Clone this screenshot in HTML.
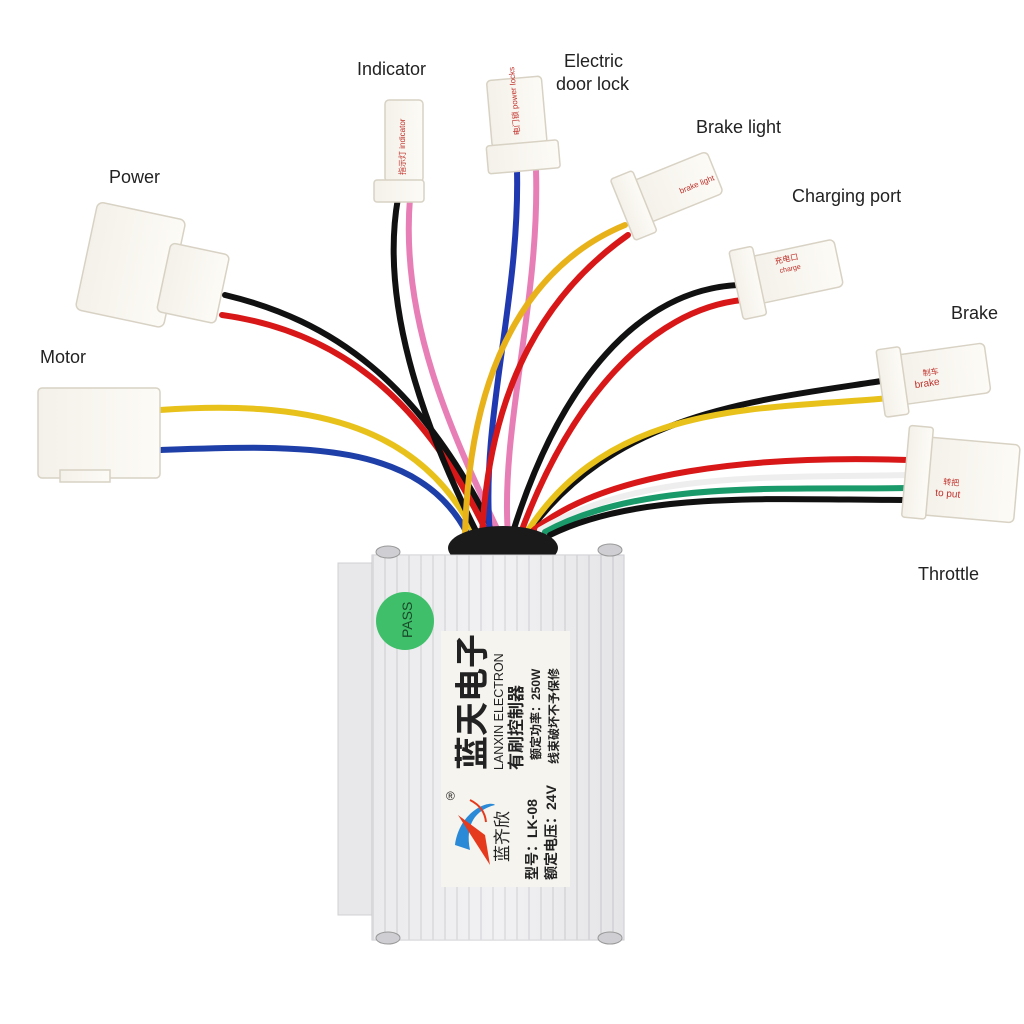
<!DOCTYPE html>
<html><head><meta charset="utf-8"><style>
html,body{margin:0;padding:0;background:#fff;}
svg{display:block;}
.lbl{font-family:"Liberation Sans",sans-serif;font-size:18px;fill:#222;}
.cn{font-family:"Liberation Sans","Noto Sans CJK SC",sans-serif;font-weight:bold;fill:#222;}
</style></head><body>
<svg width="1024" height="1024" viewBox="0 0 1024 1024" xmlns="http://www.w3.org/2000/svg">
<defs>
<linearGradient id="al" x1="0" x2="1">
<stop offset="0" stop-color="#e6e6e8"/><stop offset="0.5" stop-color="#f4f4f6"/><stop offset="1" stop-color="#d8d8dc"/>
</linearGradient>
<pattern id="rib" width="12" height="10" patternUnits="userSpaceOnUse">
<rect width="12" height="10" fill="#efeff1"/><rect x="0" width="2" height="10" fill="#d2d2d6"/>
</pattern>
<linearGradient id="conn" x1="0" x2="1"><stop offset="0" stop-color="#f4f1ea"/><stop offset="1" stop-color="#fdfbf6"/></linearGradient>
</defs>

<text class="lbl" x="357" y="75">Indicator</text>
<text class="lbl" x="564" y="67">Electric</text>
<text class="lbl" x="556" y="90">door lock</text>
<text class="lbl" x="696" y="133">Brake light</text>
<text class="lbl" x="109" y="183">Power</text>
<text class="lbl" x="792" y="202">Charging port</text>
<text class="lbl" x="951" y="319">Brake</text>
<text class="lbl" x="40" y="363">Motor</text>
<text class="lbl" x="918" y="580">Throttle</text>

<g fill="none" stroke-width="6" stroke-linecap="round">
<path d="M225 295 C330 320 420 380 495 535" stroke="#111"/>
<path d="M222 315 C330 330 420 390 488 535" stroke="#d81818"/>
<path d="M160 410 C300 400 420 420 475 535" stroke="#e8c21a"/>
<path d="M160 450 C300 445 420 440 468 535" stroke="#1f3fa8"/>
<path d="M398 198 C380 300 420 420 478 535" stroke="#111"/>
<path d="M410 198 C400 320 450 430 500 535" stroke="#e77fb6"/>
<path d="M517 170 C520 300 480 420 490 535" stroke="#2038b0"/>
<path d="M536 170 C540 300 500 430 508 535" stroke="#e77fb6"/>
<path d="M625 225 C540 260 470 350 465 535" stroke="#e8b21a"/>
<path d="M628 235 C550 290 490 380 482 535" stroke="#d81818"/>
<path d="M738 285 C640 290 560 380 512 535" stroke="#111"/>
<path d="M742 300 C650 310 570 400 520 535" stroke="#d81818"/>
<path d="M888 380 C760 400 620 410 530 530" stroke="#111"/>
<path d="M890 398 C760 410 610 400 525 535" stroke="#e8c21a"/>
<path d="M908 460 C760 455 600 470 528 535" stroke="#d81818"/>
<path d="M908 475 C780 478 640 470 540 530" stroke="#eee"/>
<path d="M908 488 C780 490 640 480 545 532" stroke="#1a9a6a"/>
<path d="M908 500 C780 500 640 490 550 535" stroke="#111"/>
</g>

<g fill="url(#conn)" stroke="#d8d2c4" stroke-width="1.5">
<g transform="rotate(12 155 270)">
<rect x="85" y="215" width="90" height="110" rx="6"/>
<rect x="165" y="240" width="60" height="70" rx="5"/>
</g>
<rect x="38" y="388" width="122" height="90" rx="4"/>
<rect x="60" y="470" width="50" height="12"/>
<rect x="385" y="100" width="38" height="82" rx="4"/>
<rect x="374" y="180" width="50" height="22" rx="3"/>
<g transform="rotate(-5 520 120)">
<rect x="490" y="78" width="55" height="67" rx="4"/>
<rect x="484" y="143" width="72" height="28" rx="3"/>
</g>
<g transform="rotate(-22 665 195)">
<rect x="640" y="170" width="80" height="45" rx="5"/>
<rect x="620" y="160" width="24" height="66" rx="3"/>
</g>
<g transform="rotate(-12 785 275)">
<rect x="755" y="250" width="85" height="48" rx="5"/>
<rect x="735" y="240" width="24" height="70" rx="3"/>
</g>
<g transform="rotate(-8 935 375)">
<rect x="900" y="350" width="88" height="50" rx="5"/>
<rect x="880" y="342" width="24" height="68" rx="3"/>
</g>
<g transform="rotate(5 960 480)">
<rect x="925" y="440" width="92" height="78" rx="5"/>
<rect x="905" y="430" width="24" height="92" rx="3"/>
</g>
</g>
<g font-family="Liberation Sans, Noto Sans CJK SC, sans-serif" fill="#c0302a" font-size="8">
<text transform="translate(405,175) rotate(-90)">指示灯 indicator</text>
<text transform="translate(520,135) rotate(-95)">电门锁 power locks</text>
<text x="680" y="190" transform="rotate(-22 690 190)">brake light</text>
<text x="775" y="262" transform="rotate(-12 785 262)">充电口</text>
<text x="780" y="272" transform="rotate(-12 785 272)" font-size="7">charge</text>
<text x="923" y="375" transform="rotate(-8 930 375)">制车</text>
<text x="915" y="386" transform="rotate(-8 930 386)" font-size="10">brake</text>
<text x="943" y="485" transform="rotate(5 950 485)">转把</text>
<text x="935" y="497" transform="rotate(5 950 497)" font-size="10">to put</text>
</g>

<ellipse cx="503" cy="548" rx="55" ry="22" fill="#1a1a1a"/>

<rect x="338" y="563" width="40" height="352" fill="#e8e8ea" stroke="#d0d0d4"/>
<rect x="372" y="555" width="252" height="385" fill="url(#rib)" stroke="#c8c8cc"/>
<rect x="372" y="555" width="252" height="385" fill="url(#al)" opacity="0.45"/>
<g fill="#cfcfd3" stroke="#999">
<ellipse cx="388" cy="552" rx="12" ry="6"/><ellipse cx="610" cy="550" rx="12" ry="6"/>
<ellipse cx="388" cy="938" rx="12" ry="6"/><ellipse cx="610" cy="938" rx="12" ry="6"/>
</g>
<circle cx="405" cy="621" r="29" fill="#3fbf6a"/>
<text transform="translate(412,638) rotate(-90)" font-family="Liberation Sans,sans-serif" font-size="14" fill="#1a4a2a">PASS</text>

<rect x="441" y="631" width="129" height="256" fill="#f6f4ee"/>
<g class="cn">
<text transform="translate(484,770) rotate(-90)" font-size="34">蓝天电子</text>
<text transform="translate(503,770) rotate(-90)" font-size="12.5" font-weight="normal">LANXIN ELECTRON</text>
<text transform="translate(522,770) rotate(-90)" font-size="17">有刷控制器</text>
<text transform="translate(540,760) rotate(-90)" font-size="12">额定功率：250W</text>
<text transform="translate(558,764) rotate(-90)" font-size="12">线束破坏不予保修</text>
<text transform="translate(508,862) rotate(-90)" font-size="17" font-weight="normal">蓝齐欣</text>
<text transform="translate(537,880) rotate(-90)" font-size="14">型号：LK-08</text>
<text transform="translate(556,880) rotate(-90)" font-size="14">额定电压：24V</text>
</g>
<text x="446" y="800" font-family="Liberation Sans,sans-serif" font-size="12" fill="#222">®</text>
<path d="M455 845 C460 810 490 800 495 805 C475 810 465 825 470 850 Z" fill="#2a8ad8"/>
<path d="M458 815 L485 835 L490 865 Z" fill="#e63a1e"/>
<path d="M470 800 C480 805 485 812 486 822" stroke="#e63a1e" stroke-width="2" fill="none"/>
</svg>
</body></html>
